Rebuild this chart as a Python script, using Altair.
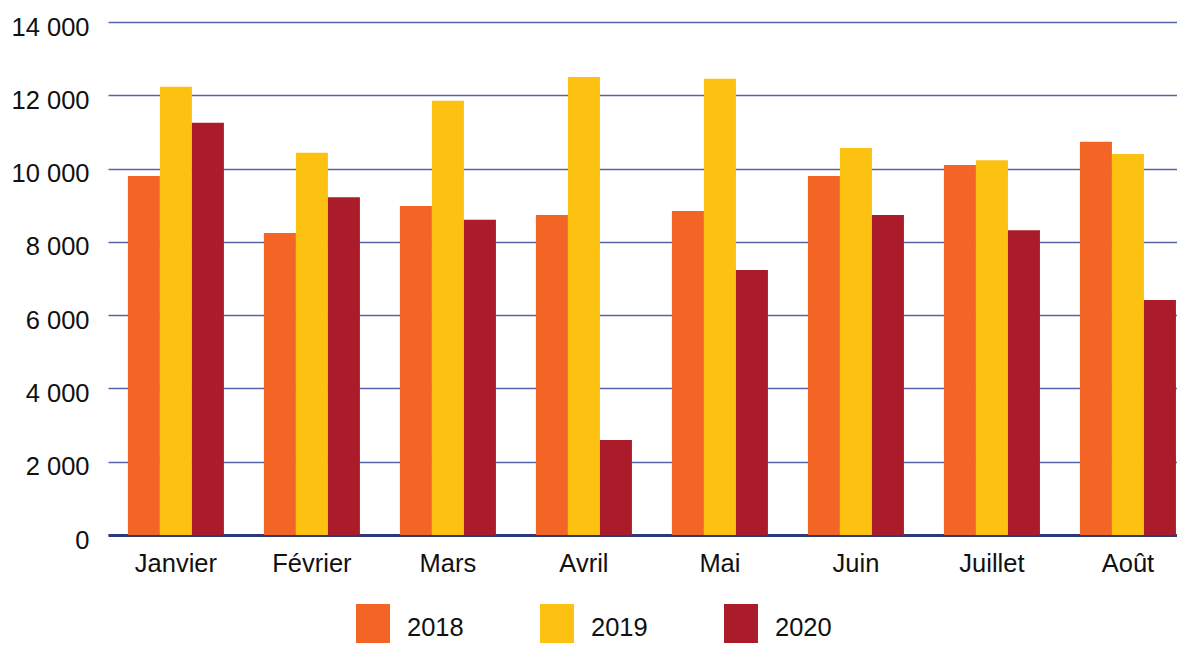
import altair as alt
import pandas as pd

months = ["Janvier", "Février", "Mars", "Avril", "Mai", "Juin", "Juillet", "Août"]
years = ["2018", "2019", "2020"]
v2018 = [9800, 8240, 8980, 8730, 8840, 9800, 10100, 10730]
v2019 = [12230, 10430, 11850, 12500, 12450, 10560, 10230, 10400]
v2020 = [11250, 9220, 8600, 2590, 7230, 8730, 8320, 6410]
colors = ["#F26524", "#FDC111", "#AB1C2A"]
y_ticks = [0, 2000, 4000, 6000, 8000, 10000, 12000, 14000]

rows = []
for yr, vals in zip(years, [v2018, v2019, v2020]):
    for m, v in zip(months, vals):
        rows.append({"mois": m, "annee": yr, "valeur": v})
df = pd.DataFrame(rows)

FONT = "Liberation Sans"
FS = 25.5

chart = alt.Chart(df).mark_bar().encode(
    x=alt.X(
        "mois:N",
        sort=months,
        title=None,
        scale=alt.Scale(paddingInner=0.294, paddingOuter=0.077, align=0.95),
        axis=alt.Axis(
            labelAngle=0,
            labelFontSize=FS,
            labelFont=FONT,
            labelColor="#111111",
            labelPadding=16,
            ticks=False,
            domainColor="#2D3A7A",
            domainWidth=3,
            grid=False,
        ),
    ),
    xOffset=alt.XOffset("annee:N", sort=years,
                        scale=alt.Scale(paddingInner=0, paddingOuter=0)),
    y=alt.Y(
        "valeur:Q",
        title=None,
        scale=alt.Scale(domain=[0, 14000], nice=False),
        axis=alt.Axis(
            values=y_ticks,
            labelExpr="replace(format(datum.value, ','), /,/g, ' ')",
            labelFontSize=FS,
            labelFont=FONT,
            labelColor="#111111",
            labelPadding=19,
            labelOffset=5,
            ticks=False,
            domain=False,
            grid=True,
            gridColor="#5564A8",
            gridWidth=1.5,
        ),
    ),
    color=alt.Color(
        "annee:N",
        sort=years,
        scale=alt.Scale(domain=years, range=colors),
        legend=alt.Legend(
            title=None,
            orient="none",
            direction="horizontal",
            columns=3,
            legendX=248,
            legendY=589,
            padding=0,
            symbolType="M-1,-1.41H1V1.41H-1Z",
            symbolSize=1156,
            symbolStrokeWidth=0,
            symbolOpacity=1,
            labelFontSize=FS,
            labelFont=FONT,
            labelColor="#111111",
            labelOffset=17,
            columnPadding=76,
        ),
    ),
).properties(
    width=1069,
    height=513,
    padding={"left": 100, "top": 14, "right": 0, "bottom": 108},
    autosize=alt.AutoSizeParams(type="none"),
).configure_view(stroke=None)

chart.save("out.html", embed_options={"renderer": "svg", "actions": False})
